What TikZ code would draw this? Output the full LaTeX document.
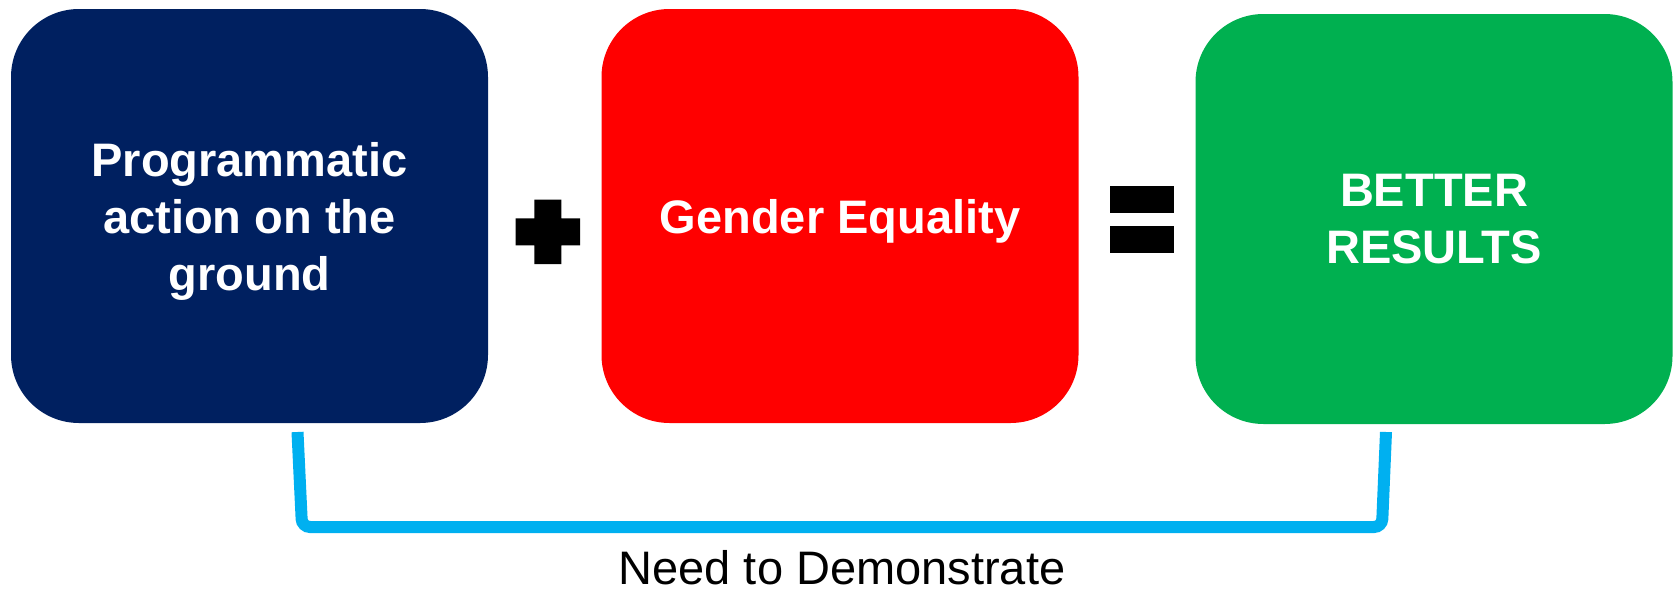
\documentclass[tikz,border=0pt]{standalone}
\usepackage{fontspec}
\setmainfont{Liberation Sans}
\definecolor{navyblue}{HTML}{002060}
\definecolor{brightred}{HTML}{FF0000}
\definecolor{okgreen}{HTML}{00B050}
\definecolor{skycyan}{HTML}{00B0F0}
\begin{document}
\begin{tikzpicture}[x=1pt,y=-1pt,
  box/.style={rounded corners=68pt, inner sep=0pt, text=white, align=center,
    minimum width=477pt, font=\fontsize{47}{57}\selectfont\bfseries},
  symb/.style={fill=black},
  link/.style={draw=skycyan, line width=12pt, line cap=butt, rounded corners=8pt},
  caption/.style={font=\fontsize{47}{56}\selectfont, text=black, inner sep=0pt}]
\useasboundingbox (0,0) rectangle (1674,592);
\node[box, fill=navyblue, minimum height=414pt, text depth=0pt] (b1) at (249.5,216)
  {Programmatic\\action on the\\ground};
\node[box, fill=brightred, minimum height=414pt, text height=34pt, text depth=0pt] (b2) at (840,216)
  {Gender Equality};
\node[box, fill=okgreen, minimum height=410pt, text depth=0pt] (b3) at (1434,219)
  {BETTER\\RESULTS};
% plus sign
\fill[symb] (534.3,199.7) -- (561.3,199.7) -- (561.3,218.3) -- (580,218.3) -- (580,245.3)
  -- (561.3,245.3) -- (561.3,264) -- (534.3,264) -- (534.3,245.3) -- (515.7,245.3)
  -- (515.7,218.3) -- (534.3,218.3) -- cycle;
% equals sign
\fill[symb] (1110,186.3) rectangle (1174,213.3);
\fill[symb] (1110,226.3) rectangle (1174,253.3);
% connector
\coordinate (c1) at (297.5,432);
\coordinate (c2) at (1386,432);
\draw[link] (c1) -- (302,527) -- (1382,527) -- (c2);
\node[caption, anchor=base] (need) at (842,584) {Need to Demonstrate};
\end{tikzpicture}
\end{document}
